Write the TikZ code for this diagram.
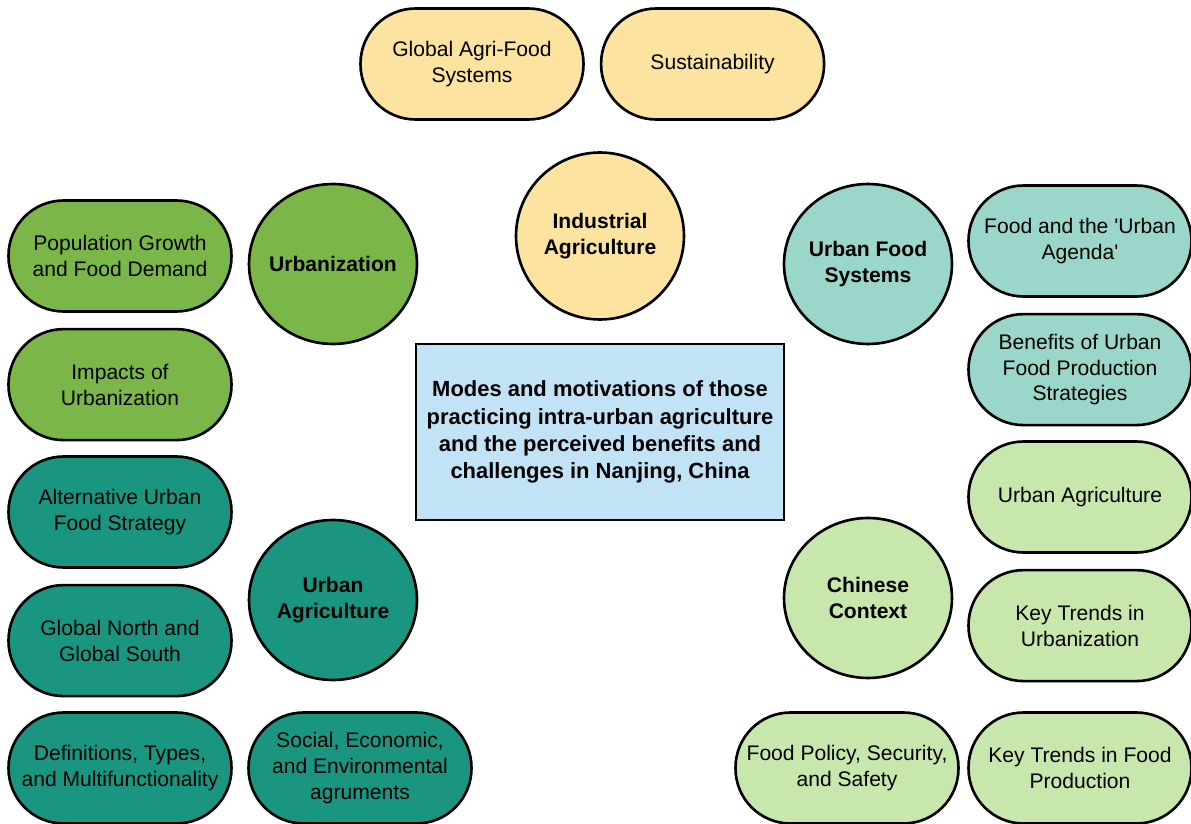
\documentclass[tikz,border=0pt]{standalone}
\usepackage{fontspec}
\setmainfont{Liberation Sans}
\usepackage{xcolor}
\usepackage{tikz}
\usetikzlibrary{shapes,positioning}

\definecolor{sand}{HTML}{FCE3A0}
\definecolor{leaf}{HTML}{7AB648}
\definecolor{teal}{HTML}{1A9580}
\definecolor{mint}{HTML}{9AD6CA}
\definecolor{lime}{HTML}{C8E7AD}
\definecolor{sky}{HTML}{C2E3F6}

\begin{document}
\begin{tikzpicture}[
    x=0.02cm, y=-0.02cm,
    pill/.style={draw, line width=1.5pt, rounded corners=1.1cm, minimum width=4.46cm, minimum height=2.22cm, align=center, font=\fontsize{12}{14.7}\selectfont},
    hub/.style={draw, line width=1.5pt, ellipse, inner xsep=-8pt, inner ysep=0pt, minimum width=3.36cm, minimum height=3.2cm, align=center, font=\fontsize{12}{14.7}\selectfont\bfseries},
    topic/.style={draw, line width=1.5pt, fill=sky, minimum width=7.36cm, minimum height=3.52cm, align=center, font=\fontsize{12.5}{15.5}\selectfont\bfseries}
]
\useasboundingbox (0,0) rectangle (1191,824);

% centre
\node[topic] (main) at (600,432) {Modes and motivations of those\\practicing intra-urban agriculture\\and the perceived benefits and\\challenges in Nanjing, China};

% top
\node[pill, fill=sand] (agrifood) at (472,64) {Global Agri-Food\\Systems};
\node[pill, fill=sand, right=0.3cm of agrifood] (sustain) {Sustainability};
\node[hub, fill=sand, minimum height=3.34cm] (indag) at (600,236) {Industrial\\Agriculture};

% left, urbanization
\node[hub, fill=leaf] (urbanz) at (333,264) {Urbanization};
\node[pill, fill=leaf] (popgrowth) at (120,256) {Population Growth\\and Food Demand};
\node[pill, fill=leaf, below=0.3cm of popgrowth] (impacts) {Impacts of\\Urbanization};

% left, urban agriculture
\node[hub, fill=teal] (urbag) at (333,600) {Urban\\Agriculture};
\node[pill, fill=teal] (altfood) at (120,512) {Alternative Urban\\Food Strategy};
\node[pill, fill=teal, below=0.3cm of altfood] (northsouth) {Global North and\\Global South};
\node[pill, fill=teal] (defs) at (120,768) {Definitions, Types,\\and Multifunctionality};
\node[pill, fill=teal] (args) at (360,768) {Social, Economic,\\and Environmental\\agruments};

% right, urban food systems
\node[hub, fill=mint] (ufs) at (868,264) {Urban Food\\Systems};
\node[pill, fill=mint] (agenda) at (1080,241) {Food and the \textquotesingle Urban\\Agenda\textquotesingle};
\node[pill, fill=mint, below=0.3cm of agenda] (benefits) {Benefits of Urban\\Food Production\\Strategies};

% right, chinese context
\node[hub, fill=lime] (china) at (868,598) {Chinese\\Context};
\node[pill, fill=lime] (uagri) at (1080,497) {Urban Agriculture};
\node[pill, fill=lime, below=0.3cm of uagri] (trendsurb) {Key Trends in\\Urbanization};
\node[pill, fill=lime] (policy) at (847,768) {Food Policy, Security,\\and Safety};
\node[pill, fill=lime] (trendsfood) at (1080,768) {Key Trends in Food\\Production};

\end{tikzpicture}
\end{document}
